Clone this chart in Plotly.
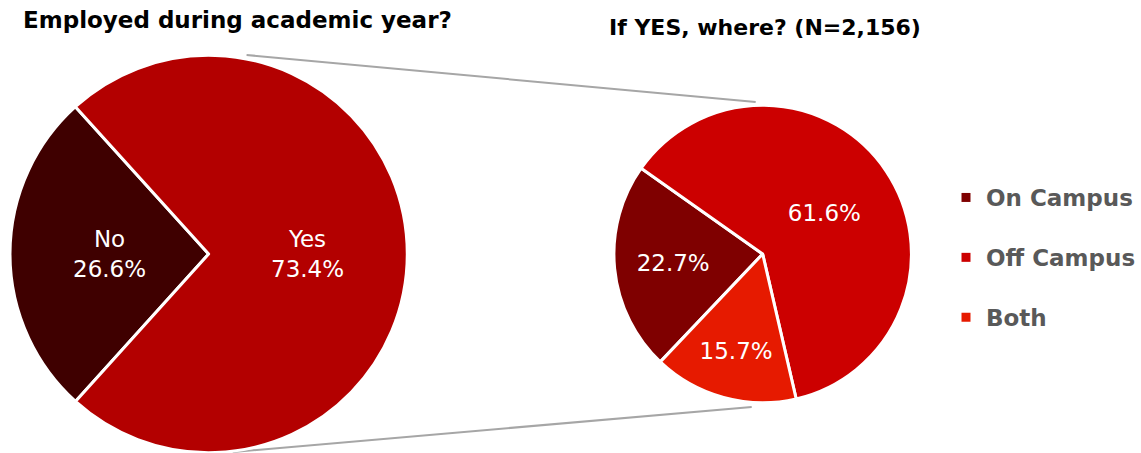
import math
import plotly.graph_objects as go

W, H = 1141, 453

# Employment during the academic year
emp_labels = ["No", "Yes"]
emp_values = [26.6, 73.4]
emp_colors = ["#3f0000", "#b30000"]

# Location of work for those employed (N=2,156)
loc_labels = ["On Campus", "Off Campus", "Both"]
loc_values = [22.7, 61.6, 15.7]
loc_colors = ["#7f0000", "#cc0000", "#e61a00"]

FONT = "DejaVu Sans, Arial, sans-serif"
FS = 23


def px_x(x):
    return x / W


def px_y(y):
    return 1 - y / H


fig = go.Figure()

# left pie geometry (pixels)
L_CX, L_CY, L_R = 209, 254, 199
L_ROT = 222.1

fig.add_trace(go.Pie(
    labels=emp_labels, values=emp_values, sort=False, direction="clockwise",
    rotation=L_ROT,
    marker=dict(colors=emp_colors, line=dict(color="white", width=3)),
    textinfo="none",
    domain=dict(x=[px_x(L_CX - L_R), px_x(L_CX + L_R)],
                y=[px_y(L_CY + L_R), px_y(L_CY - L_R)]),
    showlegend=False, hoverinfo="label+value",
))

# slice labels of the left pie, placed halfway out along each slice bisector
total = sum(emp_values)
cum = 0.0
for lab, val in zip(emp_labels, emp_values):
    ang = math.radians(L_ROT + 360 * (cum + val / 2) / total)
    cum += val
    lx = L_CX + 0.5 * L_R * math.sin(ang)
    ly = L_CY - 0.5 * L_R * math.cos(ang)
    fig.add_annotation(text=f"{lab}<br>{val:.1f}%", xref="paper", yref="paper",
                       x=px_x(lx), y=px_y(ly), xanchor="center", yanchor="middle",
                       showarrow=False,
                       font=dict(family=FONT, size=FS, color="white"))

fig.add_trace(go.Pie(
    labels=loc_labels, values=loc_values, sort=False, direction="clockwise",
    rotation=223.5,
    marker=dict(colors=loc_colors, line=dict(color="white", width=3)),
    texttemplate="%{value:.1f}%", textposition="inside",
    insidetextorientation="horizontal",
    textfont=dict(family=FONT, size=FS, color="white"),
    domain=dict(x=[px_x(615), px_x(913)], y=[px_y(403), px_y(105)]),
    showlegend=False, hoverinfo="label+value",
))

# legend entries for the breakdown pie
for i, (name, col) in enumerate(zip(loc_labels, loc_colors)):
    fig.add_trace(go.Scatter(
        x=[None], y=[None], mode="markers", name=name,
        marker=dict(symbol="square", size=9, color=col),
        legendgroup=f"g{i}", showlegend=True,
    ))

# connector lines between the two pies
connectors = [((247, 55), (757, 102)), ((233, 452), (753, 407))]
for (x0, y0), (x1, y1) in connectors:
    fig.add_shape(type="line", xref="paper", yref="paper",
                  x0=px_x(x0), y0=px_y(y0), x1=px_x(x1), y1=px_y(y1),
                  line=dict(color="#a6a6a6", width=2), layer="below")

fig.add_annotation(text="<b>Employed during academic year?</b>",
                   xref="paper", yref="paper", x=px_x(21), y=px_y(20),
                   xanchor="left", yanchor="middle", showarrow=False,
                   font=dict(family=FONT, size=FS, color="black"))
fig.add_annotation(text="<b>If YES, where? (N=2,156)</b>",
                   xref="paper", yref="paper", x=px_x(766), y=px_y(28),
                   xanchor="center", yanchor="middle", showarrow=False,
                   font=dict(family=FONT, size=22, color="black"))

fig.update_layout(
    width=W, height=H, margin=dict(l=0, r=0, t=0, b=0),
    paper_bgcolor="white", plot_bgcolor="white",
    xaxis=dict(visible=False), yaxis=dict(visible=False),
    legend=dict(x=px_x(948), y=px_y(176), xanchor="left", yanchor="top",
                tracegroupgap=27, itemwidth=30,
                font=dict(family=FONT, size=FS, color="#595959", weight="bold"),
                bgcolor="rgba(0,0,0,0)"),
)

fig.write_html("out.html")
